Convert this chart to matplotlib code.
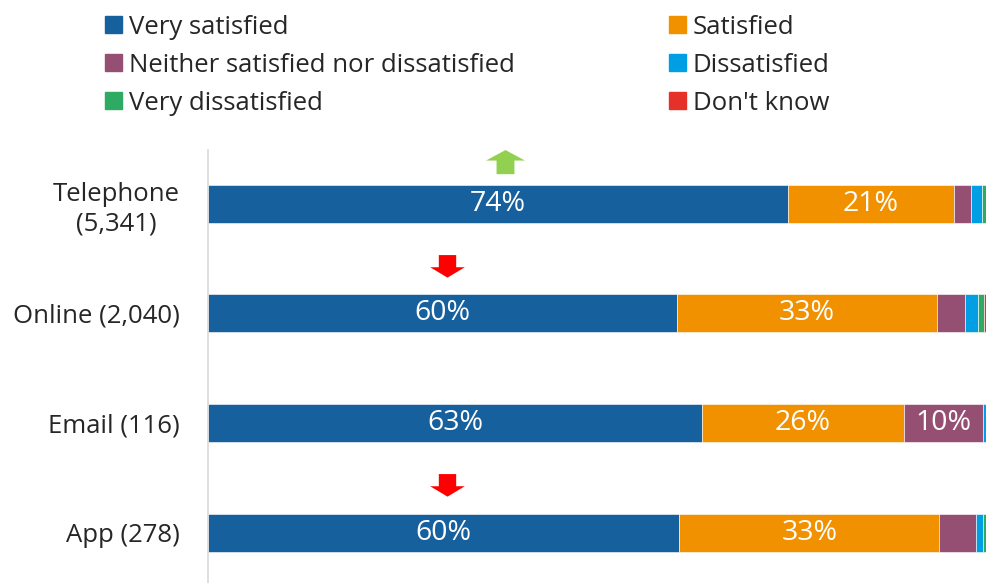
import numpy as np, matplotlib
matplotlib.use("Agg")
import matplotlib.pyplot as plt
from matplotlib.patches import Rectangle
from matplotlib.path import Path

plt.rcParams["font.family"] = ["Open Sans", "DejaVu Sans"]

# ---- data (percent of respondents per channel) ----
channels = ["Telephone\n(5,341)", "Online (2,040)", "Email (116)", "App (278)"]
series = ["Very satisfied", "Satisfied", "Neither satisfied nor dissatisfied",
          "Dissatisfied", "Very dissatisfied", "Don't know"]
very_satisfied = [74.4, 60.2, 63.4, 60.5]
satisfied = [21.4, 33.4, 25.9, 33.4]
neither = [2.1, 3.6, 10.2, 4.7]
dissatisfied = [1.5, 1.6, 0.4, 0.9]
very_dissatisfied = [0.6, 0.8, 0.1, 0.5]
dont_know = [0.0, 0.4, 0.0, 0.0]
change = ["up", "down", None, "down"]   # significance arrows

colors = ["#17609E", "#F29100", "#954F72", "#009FE3", "#2EAA63", "#E6312A"]
txt = "#262626"
FS = 18.5

vals = np.array([very_satisfied, satisfied, neither, dissatisfied, very_dissatisfied, dont_know])
fig = plt.figure(figsize=(9.87, 5.83), dpi=100)
ax = fig.add_axes([208/987, 0, 779/987, 433/583])
y = np.arange(len(channels))
left = np.zeros(len(channels))
for k in range(len(series)):
    ax.barh(y, vals[k], left=left, height=0.347, color=colors[k], edgecolor="white", linewidth=0.4)
    for i in range(len(channels)):
        if vals[k][i] >= 9.5:
            ax.text(left[i] + vals[k][i]/2, y[i], f"{vals[k][i]:.0f}%", ha="center", va="center",
                    color="white", fontsize=20.5)
    left += vals[k]

# arrows
up = Path([(-0.5, 0.05), (0, 0.32), (0.5, 0.05), (0.23, 0.05), (0.23, -0.3), (-0.23, -0.3), (-0.23, 0.05), (-0.5, 0.05)])
down = Path([(-0.5, -0.05), (0, -0.35), (0.5, -0.05), (0.25, -0.05), (0.25, 0.3), (-0.25, 0.3), (-0.25, -0.05), (-0.5, -0.05)])
for i, c in enumerate(change):
    if c == "up":
        ax.plot(38.1, y[i] - 0.385, marker=up, ms=28, color="#92D050", mec="none", clip_on=False)
    elif c == "down":
        ax.plot(30.7, y[i] - 0.44, marker=down, ms=25, color="#FF0000", mec="none", clip_on=False)

ax.set_xlim(0, 100)
ax.set_ylim(3.461, -0.493)
ax.set_yticks(y)
ax.set_yticklabels(channels, fontsize=FS, color=txt, ha="right", multialignment="center", linespacing=1.25)
ax.tick_params(axis="y", length=0, pad=20)
ax.set_xticks([])
for s in ["top", "right", "bottom"]:
    ax.spines[s].set_visible(False)
ax.spines["left"].set_color("#D9D9D9")
ax.spines["left"].set_linewidth(1.2)

# legend, two columns read row by row
for n in range(len(series)):
    col, row = n % 2, n // 2
    x0 = [105, 669][col]
    yc = 24.5 + 38*row
    fig.patches.append(Rectangle((x0/987, 1 - (yc + 8.5)/583), 17/987, 17/583,
                                 transform=fig.transFigure, color=colors[n]))
    fig.text((x0 + 24)/987, 1 - yc/583, series[n], fontsize=FS, color=txt, va="center_baseline", ha="left")

fig.savefig("out.png", dpi=100, facecolor="white")
